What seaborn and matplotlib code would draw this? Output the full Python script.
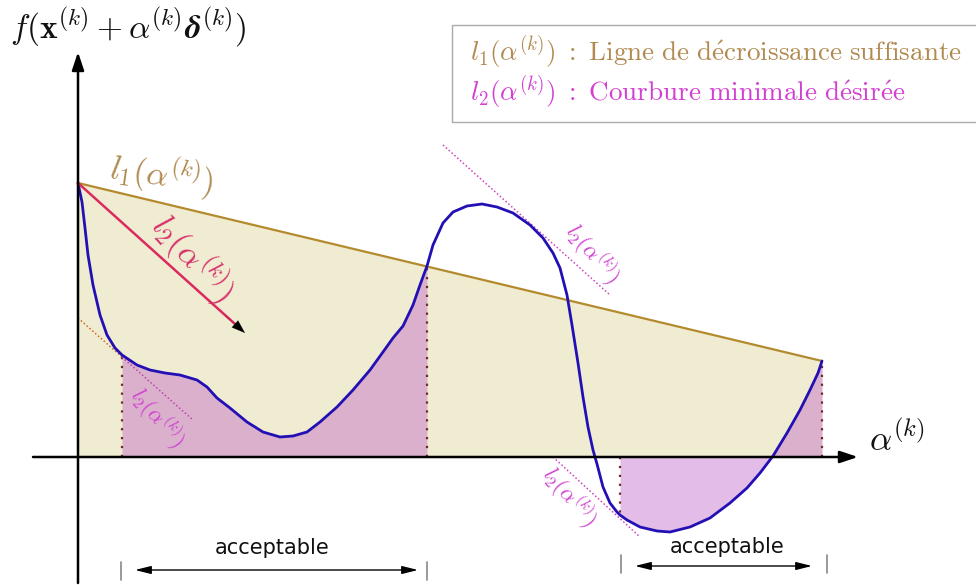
import numpy as np
import pandas as pd
import seaborn as sns
import matplotlib.pyplot as plt
from matplotlib.patches import Rectangle

# f(x + alpha*delta) along the search direction, sampled points
alpha_pts = [0.00, 0.04, 0.07, 0.10, 0.15, 0.22, 0.29, 0.37, 0.44, 0.59, 0.72, 0.87,
             1.02, 1.19, 1.29, 1.39, 1.52, 1.69, 1.85, 2.02, 2.15, 2.29, 2.42, 2.59,
             2.75, 2.92, 3.05, 3.15, 3.25, 3.35, 3.42, 3.49, 3.55, 3.65, 3.75, 3.89,
             4.04, 4.19, 4.35, 4.52, 4.65, 4.75, 4.82, 4.89, 4.94, 5.00, 5.05, 5.10,
             5.15, 5.19, 5.25, 5.32, 5.39, 5.42, 5.49, 5.62, 5.79, 5.92, 6.12, 6.32,
             6.52, 6.69, 6.82, 6.95, 7.09, 7.22, 7.32, 7.40, 7.44]
f_pts = [2.74, 2.55, 2.29, 2.02, 1.72, 1.42, 1.22, 1.09, 1.02, 0.92, 0.87, 0.84,
         0.82, 0.77, 0.70, 0.59, 0.49, 0.35, 0.25, 0.20, 0.21, 0.25, 0.35, 0.50,
         0.67, 0.87, 1.05, 1.19, 1.31, 1.52, 1.72, 1.91, 2.12, 2.34, 2.45, 2.51,
         2.53, 2.50, 2.44, 2.32, 2.19, 2.04, 1.89, 1.62, 1.32, 0.94, 0.60, 0.30,
         0.07, -0.07, -0.30, -0.46, -0.55, -0.58, -0.63, -0.70, -0.74, -0.75, -0.70, -0.61,
         -0.46, -0.31, -0.16, 0.01, 0.24, 0.47, 0.67, 0.84, 0.96]

# sufficient decrease line l1 (end points)
l1_alpha = [0.00, 7.44]
l1_f = [2.74, 0.96]

# acceptable step intervals
acceptable = [(0.44, 3.49), (5.42, 7.44)]

# l2 slope arrow and dotted tangents (alpha, f) pairs
l2_arrow = [(0.00, 2.74), (1.67, 1.24)]
tangents = [[(0.00, 1.39), (1.15, 0.37)],
            [(3.65, 3.12), (5.32, 1.62)],
            [(4.75, 0.00), (5.62, -0.80)]]

df = pd.DataFrame({"alpha": alpha_pts, "f": f_pts})
a = np.array(alpha_pts)
f = np.array(f_pts)

sns.set_theme(style="white")
plt.rcParams["font.family"] = ["DejaVu Sans"]
plt.rcParams["mathtext.fontset"] = "cm"

fig = plt.figure(figsize=(9.76, 5.85), dpi=100)
ax = fig.add_axes([0, 0, 1, 1])
ax.set_xlim(-0.78, 8.98)
ax.set_ylim(-1.28, 4.57)
ax.axis("off")

# region under the sufficient decrease line
ax.fill_between(l1_alpha, l1_f, 0, color="#f0ecd2", lw=0, zorder=1)

# acceptable regions under the curve
violet = "#b958c6"
for lo, hi in acceptable:
    m = (a >= lo - 1e-9) & (a <= hi + 1e-9)
    ax.fill_between(a[m], f[m], 0, color=violet, alpha=0.40, lw=0, zorder=2)
    for x in (lo, hi):
        ax.plot([x, x], [0, f[np.argmin(np.abs(a - x))]], ls=(0, (1, 3)),
                color="#6b2a2a", lw=1.6, zorder=3)

# l1 line
sns.lineplot(x=l1_alpha, y=l1_f, ax=ax, color="#b38b2e", lw=1.6, zorder=4)

# dotted tangents
t0 = tangents[0]
xm = acceptable[0][0]
ym = t0[0][1] + (t0[1][1] - t0[0][1]) * (xm - t0[0][0]) / (t0[1][0] - t0[0][0])
ax.plot([t0[0][0], xm], [t0[0][1], ym], ls=(0, (1, 1.5)), color="#d2641e", lw=1.1, zorder=4)
ax.plot([xm, t0[1][0]], [ym, t0[1][1]], ls=(0, (1, 1.5)), color="#c040a8", lw=1.1, zorder=4)
for seg in tangents[1:]:
    ax.plot([seg[0][0], seg[1][0]], [seg[0][1], seg[1][1]], ls=(0, (1, 1.5)),
            color="#d040c0", lw=1.1, zorder=4)

# the function curve
sns.lineplot(data=df, x="alpha", y="f", ax=ax, sort=False, estimator=None,
             color="#2210b4", lw=2.0, zorder=5, solid_joinstyle="round")

# l2 slope arrow
(x0, y0), (x1, y1) = l2_arrow
ax.plot([x0, x1 - 0.05], [y0, y1 + 0.045], color="#dc2a5e", lw=1.8, zorder=6)
ax.annotate("", xy=(x1, y1), xytext=(x1 - 0.2, y1 + 0.18),
            arrowprops=dict(arrowstyle="-|>,head_length=0.8,head_width=0.28",
                            color="black", lw=0.1, shrinkA=0, shrinkB=0), zorder=7)

# coordinate axes
ax.annotate("", xy=(7.80, 0), xytext=(-0.45, 0),
            arrowprops=dict(arrowstyle="-|>,head_length=0.9,head_width=0.3",
                            color="black", lw=1.8, shrinkA=0, shrinkB=0), zorder=8)
ax.annotate("", xy=(0, 4.05), xytext=(0, -1.26),
            arrowprops=dict(arrowstyle="-|>,head_length=0.9,head_width=0.3",
                            color="black", lw=1.8, shrinkA=0, shrinkB=0), zorder=8)

ax.text(0.50, 4.30, r"$f(\mathbf{x}^{(k)}+\alpha^{(k)}\boldsymbol{\delta}^{(k)})$",
        fontsize=24, ha="center", va="center", color="#111111")
ax.text(8.19, 0.17, r"$\alpha^{(k)}$", fontsize=25, ha="center", va="center", color="#111111")

ax.text(0.84, 2.82, r"$l_1(\alpha^{(k)})$", fontsize=24, rotation=-8,
        ha="center", va="center", color="#b08a50")
ax.text(1.15, 1.99, r"$l_2(\alpha^{(k)})$", fontsize=24, rotation=-48,
        ha="center", va="center", color="#d6306a", zorder=7)
for (tx, ty) in [(0.79, 0.39), (5.14, 2.03), (4.91, -0.40)]:
    ax.text(tx, ty, r"$l_2(\alpha^{(k)})$", fontsize=16, rotation=-50,
            ha="center", va="center", color="#d040d0", zorder=7)

# legend box
ax.add_patch(Rectangle((3.74, 3.35), 6.0, 0.97, fill=False, ec="#aaaaaa", lw=1.0, zorder=9))
ax.text(3.92, 4.05, r"$l_1(\alpha^{(k)})\ :\ \mathrm{Ligne\ de\ d\acute{e}croissance\ suffisante}$",
        fontsize=19.5, ha="left", va="center", color="#b08a50", zorder=10)
ax.text(3.92, 3.65, r"$l_2(\alpha^{(k)})\ :\ \mathrm{Courbure\ minimale\ d\acute{e}sir\acute{e}e}$",
        fontsize=19.5, ha="left", va="center", color="#d23fd2", zorder=10)

# acceptable ranges under the axis
ranges = [((0.43, 3.49), (0.57, 3.40), -1.13, (-1.05, -1.23), (1.94, -0.91)),
          ((5.43, 7.49), (5.57, 7.34), -1.09, (-0.98, -1.16), (6.49, -0.90))]
for ticks, arr, ya, tick_y, txt in ranges:
    for tx in ticks:
        ax.plot([tx, tx], tick_y, color="#888888", lw=1.2)
    ax.annotate("", xy=(arr[1], ya), xytext=(arr[0], ya),
                arrowprops=dict(arrowstyle="<|-|>,head_length=0.8,head_width=0.2",
                                color="black", lw=1.0, shrinkA=0, shrinkB=0))
    ax.text(txt[0], txt[1], "acceptable", fontsize=15, ha="center", va="center",
            color="#111111")

fig.savefig("out.png", dpi=100)
